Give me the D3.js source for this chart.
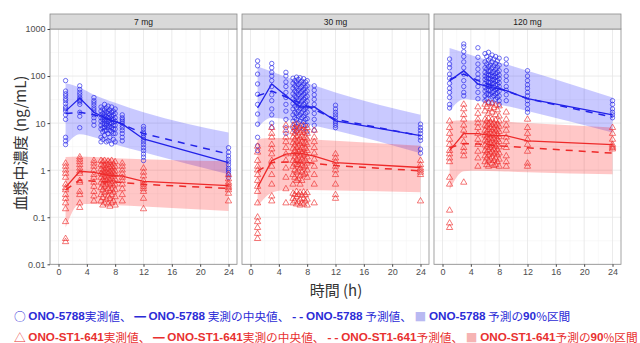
<!DOCTYPE html>
<html>
<head>
<meta charset="utf-8">
<script src="https://cdn.jsdelivr.net/npm/d3@7"></script>
<style>
  body { margin: 0; background: #fff; }
  svg { font-family: "Liberation Sans", Arial, sans-serif; }
</style>
</head>
<body>
<div id="chart"></div>
<script>
const doses = ["7 mg", "30 mg", "120 mg"];
const xTicks = [0, 4, 8, 12, 16, 20, 24];
const yTicks = [0.01, 0.1, 1, 10, 100, 1000];
const yTickLabels = ["0.01", "0.1", "1", "10", "100", "1000"];

// 90% prediction interval (per dose)
const piTimes = [1, 3, 5, 8, 12, 24];
const piParentLo = [[3.3, 5.8, 5.0, 3.5, 2.4, 0.82], [8, 13, 12, 9.5, 7, 2.3], [18, 32, 30, 25, 18, 6.3]];
const piParentHi = [[70, 57, 40, 27, 17, 6.3], [160, 125, 95, 70, 45, 15], [395, 318, 250, 195, 130, 35]];
const piMetabLo = [[0.06, 0.19, 0.19, 0.18, 0.17, 0.135], [0.17, 0.33, 0.38, 0.38, 0.37, 0.34], [0.38, 0.95, 0.97, 0.95, 0.9, 0.82]];
const piMetabHi = [[1.9, 1.95, 1.9, 1.8, 1.7, 1.55], [4.6, 4.8, 4.8, 4.6, 4.2, 3.3], [11, 11.5, 11.3, 11, 10, 8.1]];

// predicted median (dashed)
const predTimes = [1, 3, 5, 8, 12, 24];
const predParent = [[16, 17, 15, 11, 6, 2.2], [38, 48, 36, 23, 12, 5.4], [85, 110, 80, 55, 33, 13.5]];
const predMetab = [[0.38, 0.62, 0.58, 0.56, 0.5, 0.41], [0.95, 1.45, 1.5, 1.45, 1.25, 0.97], [3.0, 3.7, 3.6, 3.3, 3.0, 2.3]];

// observed median (solid)
const medTimes = [1, 3, 5, 7, 9, 12, 24];
const medParent = [[18, 34, 17, 12, 9.6, 4.6, 1.45], [21, 68, 38, 22, 22, 11.2, 5.4], [79, 130, 68, 57, 49, 33, 15]];
const medMetab = [[0.43, 0.95, 0.9, 0.78, 0.75, 0.58, 0.47], [0.43, 1.6, 2.2, 2.3, 2.0, 1.45, 1.14], [2.6, 6.0, 6.0, 5.4, 5.4, 4.2, 3.5]];

// observations: [time, values]
const obsParent7 = [
  [1, [80, 48, 42, 38, 33, 30, 26, 22, 20, 18, 15, 12, 5, 4.2, 3.5]],
  [3, [62, 52, 45, 40, 35, 32, 30, 28, 25, 17, 14, 8]],
  [5, [35, 30, 27, 24, 21, 19, 17, 15, 13, 11, 9]],
  [6, [22, 18, 15, 13, 11, 9, 7.5, 5, 4]],
  [6.25, [20, 16, 14, 12, 10, 8, 6.5, 4.5]],
  [6.5, [25, 19, 15, 13, 11, 9.5, 8, 7, 5.5]],
  [6.75, [21, 17, 14, 12, 10, 9, 7, 4]],
  [7, [23, 18, 16, 13, 11, 9, 8, 6, 4.2]],
  [7.25, [19, 15, 13, 11.5, 10, 8.5, 7, 5]],
  [7.5, [22, 17, 14, 12, 10, 8, 6.5, 3.6]],
  [7.75, [18, 15, 12, 10.5, 9, 7.5, 6, 4.5]],
  [8, [20, 16, 13, 11, 9, 7.5, 6, 4]],
  [9, [15, 13, 12, 11, 10, 9, 8, 7, 6, 5, 4.2]],
  [12, [8.5, 7.5, 6.5, 6, 5.5, 5, 4.5, 4, 3.5, 3, 2.6, 2.2, 1.9, 1.6]],
  [24, [3, 2.4, 2, 1.7, 1.5, 1.3, 1.1, 1, 0.9, 0.8, 0.7]]
];
const obsMetab7 = [
  [1, [1.4, 1.2, 1.0, 0.85, 0.7, 0.5, 0.42, 0.38, 0.3, 0.25, 0.2, 0.15, 0.08, 0.035, 0.03]],
  [3, [1.9, 1.7, 1.5, 1.3, 1.1, 0.95, 0.85, 0.6, 0.55, 0.35, 0.3, 0.2, 0.16]],
  [5, [1.6, 1.4, 1.2, 1.0, 0.8, 0.7, 0.55, 0.45, 0.35, 0.28, 0.22]],
  [6, [1.6, 1.3, 1.05, 0.85, 0.7, 0.55, 0.42, 0.3, 0.22]],
  [6.25, [1.5, 1.2, 0.95, 0.8, 0.62, 0.5, 0.38, 0.26, 0.18]],
  [6.5, [1.6, 1.25, 1.0, 0.88, 0.72, 0.58, 0.45, 0.33, 0.2]],
  [6.75, [1.4, 1.1, 0.9, 0.75, 0.6, 0.48, 0.35, 0.24]],
  [7, [1.55, 1.3, 1.05, 0.85, 0.68, 0.55, 0.4, 0.28, 0.19]],
  [7.25, [1.45, 1.15, 0.92, 0.78, 0.62, 0.5, 0.36, 0.25, 0.17]],
  [7.5, [1.6, 1.2, 1.0, 0.82, 0.66, 0.52, 0.4, 0.3, 0.2]],
  [7.75, [1.35, 1.1, 0.9, 0.72, 0.58, 0.46, 0.34, 0.22]],
  [8, [1.5, 1.2, 0.95, 0.8, 0.64, 0.5, 0.38, 0.27, 0.18]],
  [9, [1.4, 1.2, 1.0, 0.85, 0.7, 0.6, 0.5, 0.4, 0.3, 0.22]],
  [12, [1.1, 0.9, 0.75, 0.6, 0.5, 0.45, 0.4, 0.35, 0.25, 0.15]],
  [24, [0.8, 0.65, 0.55, 0.5, 0.45, 0.42, 0.38, 0.32, 0.22]]
];
const obsParent30 = [
  [1, [210, 165, 110, 68, 41, 25, 15.6, 9.5, 5, 3.3, 2.6]],
  [3, [185, 150, 120, 100, 80, 60, 40, 30, 20, 15, 10, 8]],
  [5, [120, 100, 75, 60, 45, 35, 25, 18, 12, 8, 6]],
  [6, [90, 70, 55, 42, 33, 26, 20, 15, 11, 8]],
  [6.25, [80, 62, 48, 38, 30, 23, 17, 13, 9.5, 7]],
  [6.5, [95, 75, 58, 45, 35, 27, 21, 16, 12, 8.5, 6.5]],
  [6.75, [85, 66, 50, 40, 31, 24, 18, 14, 10]],
  [7, [92, 72, 56, 44, 34, 26, 20, 15, 11, 8]],
  [7.25, [78, 60, 47, 37, 29, 22, 17, 13, 9]],
  [7.5, [88, 68, 52, 41, 32, 25, 19, 14, 10.5, 7.5]],
  [7.75, [75, 58, 45, 35, 27, 21, 16, 12, 9]],
  [8, [80, 62, 48, 37, 29, 22, 17, 12.5, 9, 6.5]],
  [9, [62, 50, 40, 32, 25, 20, 16, 12, 9, 7]],
  [12, [24, 20, 17, 15, 13, 11, 10, 9, 8]],
  [24, [9.5, 8, 7, 6, 5, 4.3, 2.8, 2.3]]
];
const obsMetab30 = [
  [1, [3.2, 2.4, 1.6, 1.2, 1.0, 0.8, 0.6, 0.45, 0.35, 0.2, 0.1, 0.08, 0.06, 0.045, 0.035]],
  [3, [8, 6, 5, 3.5, 2.8, 2.2, 1.6, 1.2, 0.8, 0.5, 0.28, 0.22]],
  [5, [9, 7, 5, 4, 3, 2.2, 1.6, 1.1, 0.7, 0.4, 0.2]],
  [6, [9, 6.5, 5, 3.8, 2.9, 2.2, 1.6, 1.2, 0.8, 0.5, 0.32, 0.25, 0.2]],
  [6.25, [8, 6, 4.5, 3.4, 2.6, 1.9, 1.4, 1.0, 0.7, 0.3, 0.22]],
  [6.5, [9.5, 7, 5.2, 4, 3, 2.3, 1.7, 1.3, 0.9, 0.6, 0.35, 0.27, 0.19]],
  [6.75, [7.5, 5.5, 4.2, 3.2, 2.4, 1.8, 1.3, 0.95, 0.65, 0.3, 0.21]],
  [7, [8.5, 6.2, 4.8, 3.6, 2.7, 2.0, 1.5, 1.1, 0.75, 0.5, 0.33, 0.24, 0.18]],
  [7.25, [7, 5.3, 4, 3, 2.3, 1.7, 1.25, 0.9, 0.6, 0.29, 0.2]],
  [7.5, [8.8, 6.4, 4.9, 3.7, 2.8, 2.1, 1.55, 1.15, 0.8, 0.34, 0.25, 0.19]],
  [7.75, [6.8, 5, 3.8, 2.9, 2.2, 1.6, 1.2, 0.85, 0.3, 0.22]],
  [8, [8, 6, 4.6, 3.5, 2.6, 1.9, 1.4, 1.0, 0.7, 0.33, 0.24, 0.18]],
  [9, [7, 5, 4, 3, 2.3, 1.7, 1.2, 0.8, 0.5, 0.2]],
  [12, [2.2, 1.8, 1.5, 1.2, 1.0, 0.8, 0.5, 0.3, 0.25]],
  [24, [1.6, 1.3, 1.1, 1.0, 0.9, 0.8, 0.22]]
];
const obsParent120 = [
  [1, [230, 180, 150, 110, 90, 70, 55, 45, 35, 25, 21]],
  [3, [480, 420, 330, 260, 200, 150, 110, 80, 60, 45, 38]],
  [5, [400, 250, 180, 140, 110, 90, 75, 60, 45, 33]],
  [6, [300, 200, 150, 120, 100, 85, 70, 58, 48, 38, 30]],
  [6.25, [260, 180, 140, 110, 92, 78, 64, 52, 42, 33]],
  [6.5, [320, 220, 160, 125, 105, 88, 72, 60, 50, 40, 28]],
  [6.75, [240, 170, 130, 105, 88, 74, 62, 50, 40]],
  [7, [280, 200, 150, 118, 98, 82, 68, 56, 45, 36, 27]],
  [7.25, [230, 165, 125, 100, 85, 70, 58, 47, 38]],
  [7.5, [260, 185, 140, 112, 94, 78, 64, 52, 42, 32]],
  [7.75, [210, 155, 120, 98, 80, 66, 54, 44, 35]],
  [8, [240, 170, 130, 105, 88, 72, 60, 48, 38, 30, 25]],
  [9, [230, 180, 130, 100, 80, 60, 50, 40, 30]],
  [12, [130, 100, 80, 65, 55, 45, 38, 30, 25, 20, 17]],
  [24, [30, 25, 20, 17, 15, 13]]
];
const obsMetab120 = [
  [1, [11, 8, 6, 4.5, 3.5, 2.6, 2.2, 1.8, 1.5, 0.7, 0.5, 0.14, 0.075, 0.06]],
  [3, [25, 20, 15, 12, 9, 7, 5.5, 4, 3, 2.5, 2, 0.55]],
  [5, [22, 16, 12, 10, 8, 6, 4.5, 3.5, 2.5, 1.8, 1.2]],
  [6, [25, 18, 12, 9, 7, 5.5, 4.3, 3.4, 2.6, 2, 1.5]],
  [6.25, [22, 11, 8.5, 6.5, 5, 4, 3.1, 2.4, 1.8, 1.3]],
  [6.5, [27, 16, 12.5, 9.5, 7.3, 5.7, 4.5, 3.5, 2.7, 2.1, 1.6, 1.2]],
  [6.75, [20, 10.5, 8, 6.2, 4.8, 3.8, 3, 2.3, 1.7]],
  [7, [26, 17, 12, 9.2, 7.1, 5.5, 4.3, 3.3, 2.5, 1.9, 1.4]],
  [7.25, [21, 10, 7.8, 6, 4.7, 3.6, 2.8, 2.2, 1.6, 1.25]],
  [7.5, [24, 15, 11.5, 8.8, 6.8, 5.3, 4.1, 3.2, 2.4, 1.8, 1.3]],
  [7.75, [19, 9.5, 7.4, 5.8, 4.5, 3.5, 2.7, 2.1, 1.5]],
  [8, [23, 14, 11, 8.5, 6.6, 5.1, 4, 3.1, 2.3, 1.7, 1.2]],
  [9, [17, 12, 9, 7, 5, 4, 3, 2, 1.5, 1.2]],
  [12, [12, 8, 6, 4.5, 3.5, 2.5, 1.4, 1.2]],
  [24, [8, 6, 4.5, 3.5, 3.2, 3, 2.8]]
];
const obsParent = [obsParent7, obsParent30, obsParent120];
const obsMetab = [obsMetab7, obsMetab30, obsMetab120];

const legendParent = ["ONO-5788実測値、", "ONO-5788 実測の中央値、", "ONO-5788 予測値、", "ONO-5788 予測の90%区間"];
const legendMetab = ["ONO-ST1-641実測値、", "ONO-ST1-641実測の中央値、", "ONO-ST1-641予測値、", "ONO-ST1-641予測の90%区間"];

const blue = "#2222e8", red = "#ee2a2a";
const panelX = [50, 242, 434], panelW = 187, plotTop = 29, plotBottom = 264.3;

const svg = d3.select("#chart").append("svg")
  .attr("width", 640).attr("height", 343);

const y = d3.scaleLog().domain([0.01, 1000]).range([plotBottom, plotTop]);
const yMinor = yTicks.slice(0, -1).map(v => v * Math.sqrt(10));

doses.forEach((dose, i) => {
  const x = d3.scaleLinear().domain([-1.2, 25.2]).range([panelX[i], panelX[i] + panelW]);
  const g = svg.append("g");
  const xMinor = xTicks.slice(0, -1).map(v => v + 2);

  // grid
  g.selectAll(".gym").data(yMinor).join("line")
    .attr("x1", x.range()[0]).attr("x2", x.range()[1])
    .attr("y1", d => y(d)).attr("y2", d => y(d))
    .attr("stroke", "#f3f3f3").attr("stroke-width", 0.5);
  g.selectAll(".gxm").data(xMinor).join("line")
    .attr("x1", d => x(d)).attr("x2", d => x(d))
    .attr("y1", plotTop).attr("y2", plotBottom)
    .attr("stroke", "#f3f3f3").attr("stroke-width", 0.5);
  g.selectAll(".gy").data(yTicks).join("line")
    .attr("x1", x.range()[0]).attr("x2", x.range()[1])
    .attr("y1", d => y(d)).attr("y2", d => y(d))
    .attr("stroke", "#e6e6e6").attr("stroke-width", 0.8);
  g.selectAll(".gx").data(xTicks).join("line")
    .attr("x1", d => x(d)).attr("x2", d => x(d))
    .attr("y1", plotTop).attr("y2", plotBottom)
    .attr("stroke", "#e6e6e6").attr("stroke-width", 0.8);

  // 90% prediction bands
  const band = (lo, hi) => d3.area()
    .x((d, k) => x(piTimes[k]))
    .y0((d, k) => y(lo[k]))
    .y1((d, k) => y(hi[k]))
    .curve(d3.curveMonotoneX)(lo);
  g.append("path").attr("d", band(piParentLo[i], piParentHi[i]))
    .attr("fill", "rgb(0,0,255)").attr("fill-opacity", 0.21);
  g.append("path").attr("d", band(piMetabLo[i], piMetabHi[i]))
    .attr("fill", "rgb(255,0,0)").attr("fill-opacity", 0.22);

  // observations
  const flat = obs => obs.flatMap(([t, vals]) => vals.map(v => ({ t, v })));
  g.selectAll(".op").data(flat(obsParent[i])).join("circle")
    .attr("cx", d => x(d.t)).attr("cy", d => y(d.v)).attr("r", 2.2)
    .attr("fill", "none").attr("stroke", blue)
    .attr("stroke-width", 0.75).attr("stroke-opacity", 0.85);
  const tri = d3.symbol().type(d3.symbolTriangle).size(17);
  g.selectAll(".om").data(flat(obsMetab[i])).join("path")
    .attr("d", tri)
    .attr("transform", d => `translate(${x(d.t)},${y(d.v)})`)
    .attr("fill", "none").attr("stroke", red)
    .attr("stroke-width", 0.75).attr("stroke-opacity", 0.85);

  // median lines
  const line = times => d3.line().x((d, k) => x(times[k])).y(d => y(d));
  g.append("path").attr("d", line(medTimes)(medParent[i]))
    .attr("fill", "none").attr("stroke", blue).attr("stroke-width", 1.3);
  g.append("path").attr("d", line(medTimes)(medMetab[i]))
    .attr("fill", "none").attr("stroke", red).attr("stroke-width", 1.3);
  g.append("path").attr("d", line(predTimes)(predParent[i]))
    .attr("fill", "none").attr("stroke", blue).attr("stroke-width", 1.5)
    .attr("stroke-dasharray", "7,6");
  g.append("path").attr("d", line(predTimes)(predMetab[i]))
    .attr("fill", "none").attr("stroke", red).attr("stroke-width", 1.5)
    .attr("stroke-dasharray", "7,6");

  // panel frame and strip
  g.append("rect").attr("x", panelX[i]).attr("y", plotTop)
    .attr("width", panelW).attr("height", plotBottom - plotTop)
    .attr("fill", "none").attr("stroke", "#8c8c8c").attr("stroke-width", 0.8);
  g.append("rect").attr("x", panelX[i]).attr("y", 14)
    .attr("width", panelW).attr("height", plotTop - 14)
    .attr("fill", "#d9d9d9").attr("stroke", "#8c8c8c").attr("stroke-width", 0.8);
  g.append("text").attr("x", panelX[i] + panelW / 2).attr("y", 21.8)
    .attr("text-anchor", "middle").attr("dominant-baseline", "central")
    .attr("font-size", 8.5).attr("fill", "#1a1a1a").text(dose);

  // x axis
  const xa = svg.append("g").attr("transform", `translate(0,${plotBottom})`)
    .call(d3.axisBottom(x).tickValues(xTicks).tickSize(2.5).tickPadding(2));
  xa.select(".domain").remove();
  xa.selectAll(".tick line").attr("stroke", "#444");
  xa.selectAll("text").attr("font-size", 9).attr("fill", "#4d4d4d")
    .attr("font-family", "Liberation Sans, Arial, sans-serif");

  if (i === 0) {
    const ya = svg.append("g").attr("transform", `translate(${panelX[0]},0)`)
      .call(d3.axisLeft(y).tickValues(yTicks).tickFormat((d, k) => yTickLabels[k]).tickSize(2.5).tickPadding(2));
    ya.select(".domain").remove();
    ya.selectAll(".tick line").attr("stroke", "#444");
    ya.selectAll("text").attr("font-size", 9).attr("fill", "#4d4d4d")
      .attr("font-family", "Liberation Sans, Arial, sans-serif");
  }
});

// axis titles
svg.append("text")
  .attr("transform", "translate(19,143) rotate(-90)")
  .attr("text-anchor", "middle").attr("dominant-baseline", "central")
  .attr("font-family", "Noto Sans CJK JP").attr("font-size", 15).attr("fill", "#333")
  .text("血漿中濃度 (ng/mL)");
svg.append("text")
  .attr("x", 336).attr("y", 289)
  .attr("text-anchor", "middle").attr("dominant-baseline", "central")
  .attr("font-family", "Noto Sans CJK JP").attr("font-size", 15).attr("fill", "#333")
  .text("時間 (h)");

// legend: Latin runs bold, Japanese runs regular
function legendRow(yPos, color, fillSq, marker, labels) {
  const t = svg.append("text").attr("x", 14).attr("y", yPos)
    .attr("dominant-baseline", "central")
    .attr("font-family", "Noto Sans CJK JP").attr("font-size", 11.7).attr("fill", color);
  const marks = [marker, "━", "- -", "■"];
  labels.forEach((lab, k) => {
    t.append("tspan").attr("fill", k === 3 ? fillSq : color)
      .attr("font-weight", k === 2 ? "bold" : null).text(marks[k] + " ");
    const parts = lab.split(/([A-Za-z0-9\-]+)/).filter(s => s.length);
    parts.forEach(p => {
      const latin = /^[A-Za-z0-9\-]+$/.test(p);
      t.append("tspan")
        .attr("font-family", latin ? "Liberation Sans, Arial, sans-serif" : null)
        .attr("font-weight", latin ? "bold" : null)
        .text(p);
    });
    if (k < 3) t.append("tspan").text(" ");
  });
}
legendRow(315, "#2b2bd6", "#b9b9f2", "○", legendParent);
legendRow(335.5, "#e83030", "#f6b3b3", "△", legendMetab);
</script>
</body>
</html>
